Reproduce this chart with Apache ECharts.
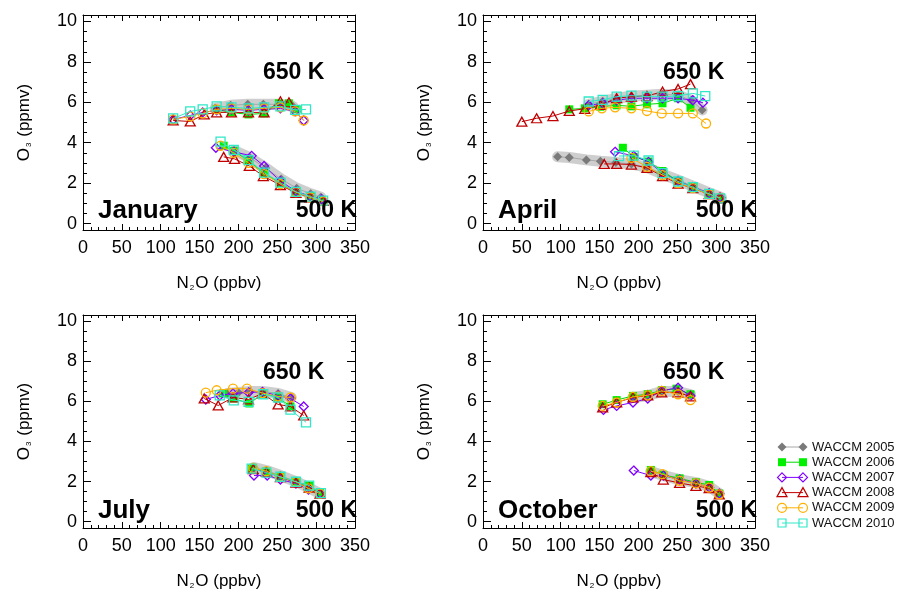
<!DOCTYPE html>
<html><head><meta charset="utf-8">
<script src="https://cdn.jsdelivr.net/npm/echarts@6/dist/echarts.min.js"></script>
<style>html,body{margin:0;padding:0;background:#fff}#c{width:898px;height:591px}</style>
</head><body><div id="c"></div>
<script>
// ---------- tick labels ----------
const xTickLabels = [0, 50, 100, 150, 200, 250, 300, 350];
const yTickLabels = [0, 2, 4, 6, 8, 10];
const months = ['January', 'April', 'July', 'October'];
const seriesNames = ['WACCM 2005', 'WACCM 2006', 'WACCM 2007', 'WACCM 2008', 'WACCM 2009', 'WACCM 2010'];
const levelLabels = ['650 K', '500 K'];

// ---------- January ----------
const jan2005_650 = [[170,5.7],[190,5.85],[212,5.9],[232,5.9],[252,5.9],[270,5.8]];
const jan2005_500 = [[195,3.6],[215,3.25],[235,2.75],[255,2.2],[275,1.75],[293,1.47],[306,1.3]];
const jan2006_650 = [[172,5.65],[191,5.5],[213,5.4],[233,5.45],[252,5.95],[265,5.95],[275,5.65]];
const jan2006_500 = [[181,3.85],[194,3.6],[213,3.1],[233,2.5],[254,2.0],[274,1.55],[292,1.35],[307,1.15]];
const jan2007_650 = [[116,5.15],[138,5.35],[154,5.5],[172,5.6],[191,5.65],[213,5.6],[233,5.65],[254,5.7],[273,5.55],[284,5.1]];
const jan2007_500 = [[171,3.75],[194,3.55],[217,3.35],[233,2.85],[254,2.1],[274,1.6],[292,1.35],[307,1.2]];
const jan2008_650 = [[116,5.1],[138,5.05],[156,5.4],[172,5.5],[191,5.5],[213,5.5],[233,5.5],[254,6.05],[265,6.0]];
const jan2008_500 = [[181,3.3],[195,3.2],[214,2.85],[232,2.35],[254,1.9],[274,1.52],[292,1.3],[309,1.12]];
const jan2009_650 = [[116,5.15],[138,5.3],[154,5.45],[172,5.65],[191,5.7],[213,5.65],[233,5.7],[254,5.75],[273,5.55],[284,5.1]];
const jan2009_500 = [[177,3.85],[194,3.5],[213,3.0],[233,2.45],[254,1.95],[274,1.55],[292,1.3],[309,1.1]];
const jan2010_650 = [[116,5.2],[138,5.55],[154,5.65],[172,5.8],[191,5.75],[213,5.7],[233,5.75],[254,5.8],[273,5.62],[287,5.65]];
const jan2010_500 = [[177,4.05],[194,3.64],[213,3.14],[233,2.52],[254,2.02],[274,1.57],[293,1.33],[309,1.13]];

// ---------- April ----------
const apr2005_650 = [[136,5.9],[154,6.05],[172,6.2],[191,6.3],[211,6.35],[231,6.4],[251,6.35],[268,6.1],[282,5.62]];
const apr2005_500 = [[96,3.3],[111,3.27],[133,3.15],[151,3.08],[171,3.02],[191,2.95],[211,2.78],[231,2.45],[251,2.15],[270,1.85],[291,1.52],[307,1.28]];
const apr2006_650 = [[111,5.65],[131,5.7],[151,5.78],[172,5.85],[191,5.8],[211,5.9],[231,5.95],[251,6.2],[267,5.73]];
const apr2006_500 = [[180,3.75],[194,3.3],[213,3.07],[231,2.6],[251,2.1],[270,1.8],[291,1.45],[305,1.25]];
const apr2007_650 = [[136,5.85],[154,5.95],[172,6.1],[191,6.2],[211,6.2],[231,6.2],[251,6.2],[270,6.1],[283,5.98]];
const apr2007_500 = [[170,3.55],[194,3.35],[213,3.05],[231,2.5],[251,2.1],[270,1.8],[291,1.5],[305,1.3]];
const apr2008_650 = [[50,5.04],[69,5.21],[90,5.32],[111,5.57],[131,5.68],[151,5.87],[172,6.2],[191,6.28],[211,6.31],[231,6.53],[251,6.66],[267,6.9]];
const apr2008_500 = [[156,2.95],[172,2.95],[191,2.92],[211,2.75],[231,2.35],[251,1.98],[270,1.75],[291,1.45],[305,1.25]];
const apr2009_650 = [[136,5.55],[153,5.7],[170,5.75],[191,5.7],[211,5.57],[230,5.45],[251,5.45],[270,5.45],[287,4.95]];
const apr2009_500 = [[191,3.25],[211,2.8],[231,2.4],[251,2.0],[270,1.75],[291,1.45],[305,1.28]];
const apr2010_650 = [[136,6.04],[154,6.12],[172,6.28],[191,6.33],[211,6.28],[231,6.28],[251,6.31],[270,6.44],[286,6.31]];
const apr2010_500 = [[175,3.34],[194,3.36],[213,3.12],[231,2.49],[251,2.08],[270,1.8],[291,1.47],[305,1.25]];

// ---------- July ----------
const jul2005_650 = [[186,6.4],[200,6.45],[215,6.5],[231,6.5],[251,6.4],[268,6.2]];
const jul2005_500 = [[220,2.7],[236,2.55],[254,2.3],[274,2.0],[290,1.7],[305,1.4]];
const jul2006_650 = [[180,6.4],[194,6.15],[214,5.9],[232,6.4],[251,6.2],[267,5.75]];
const jul2006_500 = [[217,2.65],[236,2.5],[254,2.25],[274,1.98],[291,1.8],[305,1.42]];
const jul2007_650 = [[158,6.1],[176,6.3],[193,6.4],[213,6.45],[231,6.48],[251,6.3],[267,6.15],[284,5.75]];
const jul2007_500 = [[220,2.3],[237,2.3],[254,2.1],[274,1.9],[290,1.6],[305,1.4]];
const jul2008_650 = [[156,6.15],[174,5.8],[193,6.2],[213,6.1],[231,6.4],[251,5.85],[267,5.75],[284,5.3]];
const jul2008_500 = [[219,2.62],[236,2.48],[254,2.22],[274,1.95],[291,1.7],[305,1.4]];
const jul2009_650 = [[158,6.44],[172,6.56],[193,6.64],[211,6.64],[231,6.42],[251,6.25],[267,6.2]];
const jul2009_500 = [[219,2.68],[236,2.52],[253,2.24],[274,1.99],[290,1.66],[305,1.4]];
const jul2010_650 = [[176,6.31],[194,6.06],[213,5.98],[232,6.36],[251,6.2],[267,5.59],[287,4.96]];
const jul2010_500 = [[217,2.65],[236,2.45],[254,2.24],[274,1.99],[291,1.8],[306,1.42]];

// ---------- October ----------
const oct2005_650 = [[193,6.2],[212,6.3],[230,6.5],[251,6.5],[267,6.35]];
const oct2005_500 = [[216,2.5],[232,2.3],[253,2.1],[274,1.95],[291,1.75],[304,1.4]];
const oct2006_650 = [[154,5.86],[172,6.07],[193,6.28],[212,6.36],[230,6.56],[249,6.64],[267,6.36]];
const oct2006_500 = [[216,2.58],[232,2.34],[253,2.16],[274,1.96],[291,1.83],[304,1.4]];
const oct2007_650 = [[155,5.58],[172,5.78],[193,5.95],[212,6.15],[230,6.53],[251,6.69],[267,6.28]];
const oct2007_500 = [[194,2.55],[216,2.3],[232,2.3],[253,2.1],[274,1.9],[291,1.7],[304,1.4]];
const oct2008_650 = [[154,5.7],[172,5.95],[193,6.2],[212,6.3],[230,6.45],[251,6.45],[267,6.25]];
const oct2008_500 = [[216,2.47],[232,2.1],[253,1.93],[274,1.78],[291,1.67],[304,1.36]];
const oct2009_650 = [[154,5.78],[172,5.95],[193,6.23],[212,6.31],[230,6.53],[251,6.36],[267,6.07]];
const oct2009_500 = [[216,2.52],[231,2.37],[253,2.04],[274,1.91],[291,1.7],[304,1.36]];

// panel -> per-series [650, 500] (null = no data)
const panelData = [
  [[jan2005_650, jan2005_500], [jan2006_650, jan2006_500], [jan2007_650, jan2007_500], [jan2008_650, jan2008_500], [jan2009_650, jan2009_500], [jan2010_650, jan2010_500]],
  [[apr2005_650, apr2005_500], [apr2006_650, apr2006_500], [apr2007_650, apr2007_500], [apr2008_650, apr2008_500], [apr2009_650, apr2009_500], [apr2010_650, apr2010_500]],
  [[jul2005_650, jul2005_500], [jul2006_650, jul2006_500], [jul2007_650, jul2007_500], [jul2008_650, jul2008_500], [jul2009_650, jul2009_500], [jul2010_650, jul2010_500]],
  [[oct2005_650, oct2005_500], [oct2006_650, oct2006_500], [oct2007_650, oct2007_500], [oct2008_650, oct2008_500], [oct2009_650, oct2009_500], null]
];

// ---------- styles ----------
const FONT = '"Liberation Sans", Arial, Helvetica, sans-serif';
const styles = [
  {kind: 'diamond', color: '#7a7a7a', line: '#a8a8a8', filled: true, size: 9},
  {kind: 'rect', color: '#00f000', line: '#00d800', filled: true, size: 8},
  {kind: 'diamond', color: '#7f00ff', line: '#7f00ff', filled: false, size: 9},
  {kind: 'triangle', color: '#c00000', line: '#c00000', filled: false, size: 10},
  {kind: 'circle', color: '#ffb000', line: '#ffb000', filled: false, size: 9},
  {kind: 'rect', color: '#30e8c8', line: '#30e8c8', filled: false, size: 9}
];

const PL = [83, 483], PT = [15, 315], PW = 272, PH = 215;
const Y_MIN = -0.32, Y_MAX = 10.32;

const grids = [], xAxes = [], yAxes = [], series = [], graphics = [];
const black = '#000';

for (let p = 0; p < 4; p++) {
  const col = p % 2, row = Math.floor(p / 2);
  const left = PL[col], top = PT[row];
  grids.push({left: left, top: top, width: PW, height: PH});
  const xBase = {
    type: 'value', gridIndex: p,
    min: xTickLabels[0], max: xTickLabels[xTickLabels.length - 1],
    interval: xTickLabels[1] - xTickLabels[0],
    axisLine: {show: true, onZero: false, lineStyle: {color: black, width: 1}},
    axisTick: {show: true, inside: true, length: 6, lineStyle: {color: black}},
    minorTick: {show: true, splitNumber: 5, length: 3, lineStyle: {color: black}},
    splitLine: {show: false}
  };
  xAxes.push(Object.assign({}, xBase, {
    position: 'bottom',
    axisLabel: {show: true, fontSize: 18, color: black, fontFamily: FONT, margin: 9},
    name: '{a|N}{s|2}{a|O (ppbv)}', nameLocation: 'middle', nameGap: 45,
    nameTextStyle: {rich: {a: {fontSize: 17, color: black, fontFamily: FONT}, s: {fontSize: 8, color: black, fontFamily: FONT, verticalAlign: 'bottom', padding: [0, 1, 0, 1]}}}
  }));
  xAxes.push(Object.assign({}, xBase, {position: 'top', axisLabel: {show: false}}));
  const yBase = {
    type: 'value', gridIndex: p, min: Y_MIN, max: Y_MAX, splitNumber: 5,
    axisLine: {show: true, onZero: false, lineStyle: {color: black, width: 1}},
    axisTick: {show: true, inside: true, length: 8, lineStyle: {color: black}},
    minorTick: {show: true, splitNumber: 4, length: 4, lineStyle: {color: black}},
    splitLine: {show: false}
  };
  yAxes.push(Object.assign({}, yBase, {
    position: 'left',
    axisLabel: {show: true, fontSize: 18, color: black, fontFamily: FONT, margin: 6, showMinLabel: false, showMaxLabel: false,
      formatter: v => (yTickLabels.indexOf(v) >= 0 ? String(v) : '')},
    name: '{a|O}{s|3}{a| (ppmv)}', nameLocation: 'middle', nameGap: 50, nameRotate: 90,
    nameTextStyle: {rich: {a: {fontSize: 17, color: black, fontFamily: FONT}, s: {fontSize: 8, color: black, fontFamily: FONT, verticalAlign: 'bottom', padding: [0, 1, 0, 1]}}}
  }));
  yAxes.push(Object.assign({}, yBase, {position: 'right', axisLabel: {show: false}}));

  const xi = p * 2, yi = p * 2;
  const pd = panelData[p];
  // gray spread band around 2005
  pd[0].forEach(seg => {
    series.push({
      type: 'line', name: 'band', xAxisIndex: xi, yAxisIndex: yi, data: seg, symbol: 'none', z: 1,
      lineStyle: {color: 'rgba(185,185,185,0.7)', width: 11, cap: 'round', join: 'round'}, silent: true, animation: false
    });
  });
  pd.forEach((segs, s) => {
    if (!segs) return;
    const st = styles[s];
    segs.forEach(seg => {
      series.push({
        type: 'line', name: seriesNames[s], xAxisIndex: xi, yAxisIndex: yi, data: seg,
        symbol: st.kind, symbolSize: st.kind === 'triangle' ? [10, 9] : st.size, showAllSymbol: true,
        z: 2 + s, animation: false,
        lineStyle: {color: st.line, width: 1},
        itemStyle: {color: st.filled ? st.color : 'rgba(255,255,255,0)', borderColor: st.color, borderWidth: st.filled ? 0 : 1.3}
      });
    });
  });

  // panel texts
  graphics.push({type: 'text', x: left + 15, y: top + 196, z: 50,
    style: {text: months[p], font: 'bold 26px ' + FONT, fill: black, textVerticalAlign: 'middle'}});
  graphics.push({type: 'text', x: left + 180, y: top + 58, z: 50,
    style: {text: levelLabels[0], font: 'bold 23px ' + FONT, fill: black, textVerticalAlign: 'middle'}});
  graphics.push({type: 'text', x: left + 274, y: top + 196, z: 50,
    style: {text: levelLabels[1], font: 'bold 23px ' + FONT, fill: black, textAlign: 'right', textVerticalAlign: 'middle'}});
}

// ---------- legend (graphic) ----------
function marker(kind, cx, cy, color, filled) {
  const style = {fill: filled ? color : 'none', stroke: color, lineWidth: filled ? 0 : 1.2};
  if (kind === 'diamond') return {type: 'polygon', shape: {points: [[cx, cy - 4.5], [cx + 4.5, cy], [cx, cy + 4.5], [cx - 4.5, cy]]}, style, z: 60};
  if (kind === 'triangle') return {type: 'polygon', shape: {points: [[cx, cy - 5], [cx + 5, cy + 4], [cx - 5, cy + 4]]}, style, z: 60};
  if (kind === 'circle') return {type: 'circle', shape: {cx: cx, cy: cy, r: 4.5}, style, z: 60};
  return {type: 'rect', shape: {x: cx - 4, y: cy - 4, width: 8, height: 8}, style, z: 60};
}
seriesNames.forEach((nm, i) => {
  const cy = 447 + i * 15.2, x1 = 782, x2 = 803;
  const st = styles[i];
  graphics.push({type: 'line', shape: {x1: x1, y1: cy, x2: x2, y2: cy}, style: {stroke: st.line, lineWidth: 1}, z: 59});
  graphics.push(marker(st.kind, x1, cy, st.color, st.filled));
  graphics.push(marker(st.kind, x2, cy, st.color, st.filled));
  graphics.push({type: 'text', x: 812, y: cy, style: {text: nm, font: '13px ' + FONT, fill: '#111', textVerticalAlign: 'middle'}, z: 60});
});

const chart = echarts.init(document.getElementById('c'), null, {renderer: 'canvas'});
chart.setOption({
  backgroundColor: '#fff',
  animation: false,
  grid: grids, xAxis: xAxes, yAxis: yAxes, series: series, graphic: graphics
});
</script></body></html>
